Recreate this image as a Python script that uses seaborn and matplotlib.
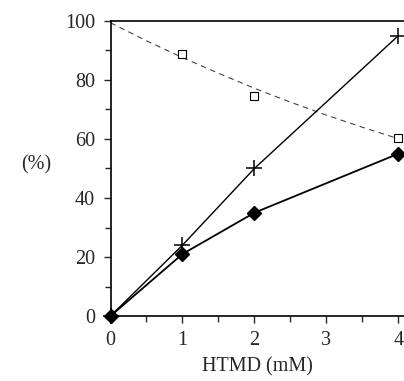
import numpy as np
import pandas as pd
import matplotlib
matplotlib.use("Agg")
import matplotlib.pyplot as plt
from matplotlib.ticker import MultipleLocator
import seaborn as sns

# values
htmd = [0, 1, 2, 4]
plus_vals = [0, 24, 50, 95]
diamond_vals = [0, 21, 35, 55]
square_x = [1, 2, 4]
square_vals = [88.8, 74.7, 60.4]
# dashed fitted curve, read at half steps
curve_x = [0, 0.5, 1, 1.5, 2, 2.5, 3, 3.5, 4]
curve_vals = [99.4, 93.3, 87.6, 82.3, 77.2, 72.5, 68.1, 64.0, 60.1]

sns.set_style("ticks")
plt.rcParams['font.family'] = ['Liberation Serif', 'DejaVu Serif']
plt.rcParams['font.size'] = 14.5

fig = plt.figure(figsize=(4.04, 3.81), dpi=100)
ax = fig.add_axes([110.5 / 404, 65 / 381, 1 - 110.5 / 404, 295 / 381])

df_plus = pd.DataFrame({'x': htmd, 'y': plus_vals})
df_dia = pd.DataFrame({'x': htmd, 'y': diamond_vals})
df_sq = pd.DataFrame({'x': square_x, 'y': square_vals})
df_curve = pd.DataFrame({'x': curve_x, 'y': curve_vals})

sns.lineplot(data=df_curve, x='x', y='y', ax=ax, color='#444444', lw=0.8,
             linestyle=(0, (5, 4)))
sns.lineplot(data=df_plus, x='x', y='y', ax=ax, color='black', lw=1.0)
sns.lineplot(data=df_dia, x='x', y='y', ax=ax, color='black', lw=1.3)
ax.plot(df_plus['x'], df_plus['y'], ls='none', marker='+', ms=11, mew=1.1,
        color='black', clip_on=False)
ax.plot(df_dia['x'], df_dia['y'], ls='none', marker='D', ms=7.5, color='black',
        clip_on=False)
ax.plot(df_sq['x'], df_sq['y'], ls='none', marker='s', ms=6, mfc='white',
        mec='black', mew=0.8, clip_on=False, zorder=5)

ax.set_xlim(0, 4.08)
ax.set_ylim(0, 100)
ax.xaxis.set_major_locator(MultipleLocator(1))
ax.xaxis.set_minor_locator(MultipleLocator(0.5))
ax.yaxis.set_major_locator(MultipleLocator(20))
ax.yaxis.set_minor_locator(MultipleLocator(10))
ax.tick_params(which='major', length=5, width=1, direction='out', pad=6)
ax.tick_params(which='minor', length=4, width=1, direction='out')

ax.spines['right'].set_visible(False)
for s in ['left', 'bottom', 'top']:
    ax.spines[s].set_linewidth(1.2)
    ax.spines[s].set_color('black')

ax.set_xlabel('HTMD (mM)', labelpad=5)
ax.set_ylabel('')
fig.text(36 / 404, 1 - 165 / 381, '(%)', ha='center', va='center', fontsize=14.5)

fig.savefig('out.png', dpi=100, facecolor='white')
